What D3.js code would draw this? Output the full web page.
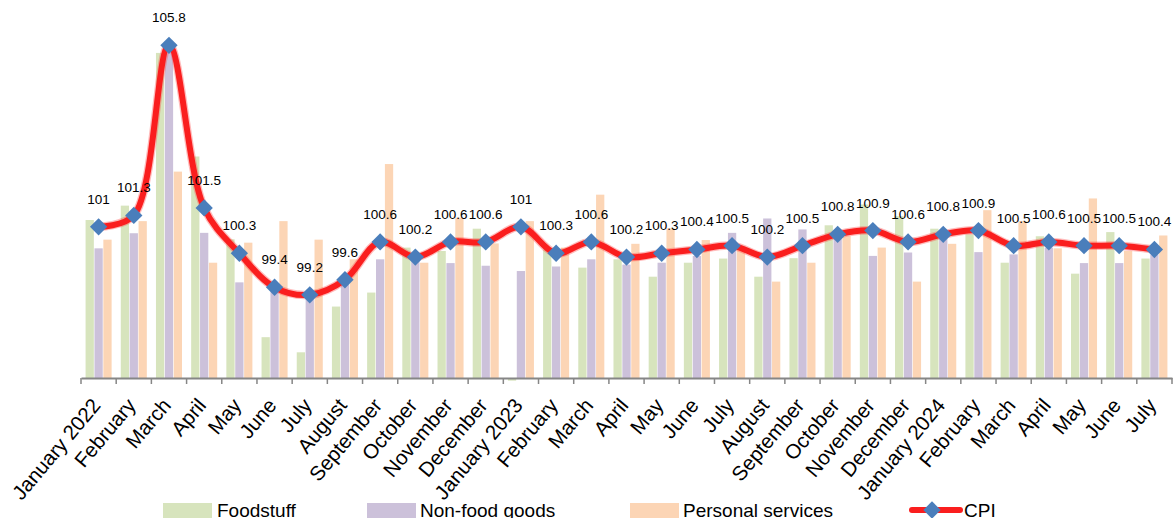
<!DOCTYPE html>
<html>
<head>
<meta charset="utf-8">
<script src="https://cdn.jsdelivr.net/npm/d3@7"></script>
<style>
  html, body { margin: 0; padding: 0; background: #fff; }
  svg { display: block; }
  text { font-family: "Liberation Sans", Arial, sans-serif; }
</style>
</head>
<body>
<svg id="chart" width="1173" height="518"></svg>
<script>
const categories = ["January 2022","February","March","April","May","June","July","August","September","October","November","December",
  "January 2023","February","March","April","May","June","July","August","September","October","November","December",
  "January 2024","February","March","April","May","June","July"];

const foodstuff = [101.18,101.56,105.6,102.86,100.67,98.08,97.68,98.89,99.26,100.45,100.36,100.95,
  96.93,100.4,99.92,100.14,99.68,100.05,100.16,99.68,100.17,101.04,101.59,101.28,
  100.95,100.8,100.05,100.75,99.76,100.86,100.16];

const nonFood = [100.43,100.83,105.75,100.84,99.53,99.3,99.13,99.48,100.14,100.1,100.04,99.97,
  99.83,99.95,100.14,100.0,100.05,100.23,100.84,101.22,100.93,100.75,100.23,100.32,
  100.71,100.33,100.27,100.45,100.04,100.04,100.27];

const services = [100.66,101.15,102.46,100.05,100.58,101.15,100.66,100.14,102.66,100.05,101.24,100.56,
  101.15,100.45,101.85,100.55,100.96,100.65,100.45,99.55,100.05,100.75,100.45,99.55,
  100.55,101.44,101.15,100.43,101.75,100.36,100.77];

const cpi = [101,101.3,105.8,101.5,100.3,99.4,99.2,99.6,100.6,100.2,100.6,100.6,
  101,100.3,100.6,100.2,100.3,100.4,100.5,100.2,100.5,100.8,100.9,100.6,
  100.8,100.9,100.5,100.6,100.5,100.5,100.4];

const seriesNames = ["Foodstuff","Non-food goods","Personal services"];
const seriesColors = ["#d7e4bd","#ccc1da","#fcd5b5"];
const baseValue = 97;

const svg = d3.select("#chart");
const idx = d3.range(categories.length);

const x = d3.scaleBand().domain(idx).range([81, 1172]).paddingInner(0).paddingOuter(0);
const inner = d3.scaleBand().domain([0,1,2]).range([x.bandwidth()*0.13, x.bandwidth()*0.87]).paddingInner(0.07);
const y = d3.scaleLinear().domain([97, 107]).range([378, 0]);

const seriesData = [foodstuff, nonFood, services];

// bars
seriesData.forEach((vals, s) => {
  svg.append("g").selectAll("rect").data(vals).join("rect")
    .attr("x", (d, i) => x(i) + inner(s))
    .attr("width", inner.bandwidth())
    .attr("y", d => Math.min(y(d), y(baseValue)))
    .attr("height", d => Math.abs(y(baseValue) - y(d)))
    .attr("fill", seriesColors[s]);
});

// x axis
const axis = d3.axisBottom(x).tickSize(0).tickFormat("");
const axG = svg.append("g").attr("transform", `translate(0,${y(baseValue)})`).call(axis);
axG.select(".domain").attr("stroke", "#868686").attr("stroke-width", 2);
const bounds = idx.concat([categories.length]);
axG.selectAll(".bt").data(bounds).join("line")
  .attr("x1", d => d < categories.length ? x(d) : x(d-1) + x.bandwidth())
  .attr("x2", d => d < categories.length ? x(d) : x(d-1) + x.bandwidth())
  .attr("y1", 0).attr("y2", 6)
  .attr("stroke", "#868686").attr("stroke-width", 1.5);

// x labels
svg.append("g").selectAll("text").data(categories).join("text")
  .attr("transform", (d, i) => `translate(${x(i) + x.bandwidth()/2 + 3},${y(baseValue) + 28}) rotate(-50)`)
  .attr("text-anchor", "end")
  .attr("font-size", 20.5)
  .attr("fill", "#000")
  .text(d => d);

// CPI line
const line = d3.line()
  .x((d, i) => x(i) + x.bandwidth()/2)
  .y(d => y(d))
  .curve(d3.curveCatmullRom.alpha(0.5));

svg.append("path").datum(cpi)
  .attr("d", line).attr("fill", "none")
  .attr("stroke", "#ff3b3b").attr("stroke-opacity", 0.35).attr("stroke-width", 8.5)
  .attr("stroke-linejoin", "round");
svg.append("path").datum(cpi)
  .attr("d", line).attr("fill", "none")
  .attr("stroke", "#fa1e1e").attr("stroke-width", 6)
  .attr("stroke-linejoin", "round");

// markers
const diamond = d3.symbol().type(d3.symbolSquare).size(150);
svg.append("g").selectAll("path").data(cpi).join("path")
  .attr("d", diamond)
  .attr("transform", (d, i) => `translate(${x(i) + x.bandwidth()/2},${y(d)}) rotate(45)`)
  .attr("fill", "#4a7ebb");

// value labels
svg.append("g").selectAll("text").data(cpi).join("text")
  .attr("x", (d, i) => x(i) + x.bandwidth()/2)
  .attr("y", d => y(d) - 23)
  .attr("text-anchor", "middle")
  .attr("font-size", 13.5)
  .attr("fill", "#000")
  .text(d => d);

// legend
const legendX = [163, 367, 630];
const legendTextX = [217, 420, 683];
seriesNames.forEach((n, s) => {
  svg.append("rect").attr("x", legendX[s]).attr("y", 503).attr("width", 49).attr("height", 16).attr("fill", seriesColors[s]);
  svg.append("text").attr("x", legendTextX[s]).attr("y", 517).attr("font-size", 19).attr("fill", "#000").text(n);
});
svg.append("line").attr("x1", 912).attr("x2", 960).attr("y1", 510).attr("y2", 510)
  .attr("stroke", "#fa1e1e").attr("stroke-width", 6).attr("stroke-linecap", "round");
svg.append("path").attr("d", diamond).attr("transform", "translate(932,510) rotate(45)").attr("fill", "#4a7ebb");
svg.append("text").attr("x", 964).attr("y", 517).attr("font-size", 19).attr("fill", "#000").text("CPI");
</script>
</body>
</html>
